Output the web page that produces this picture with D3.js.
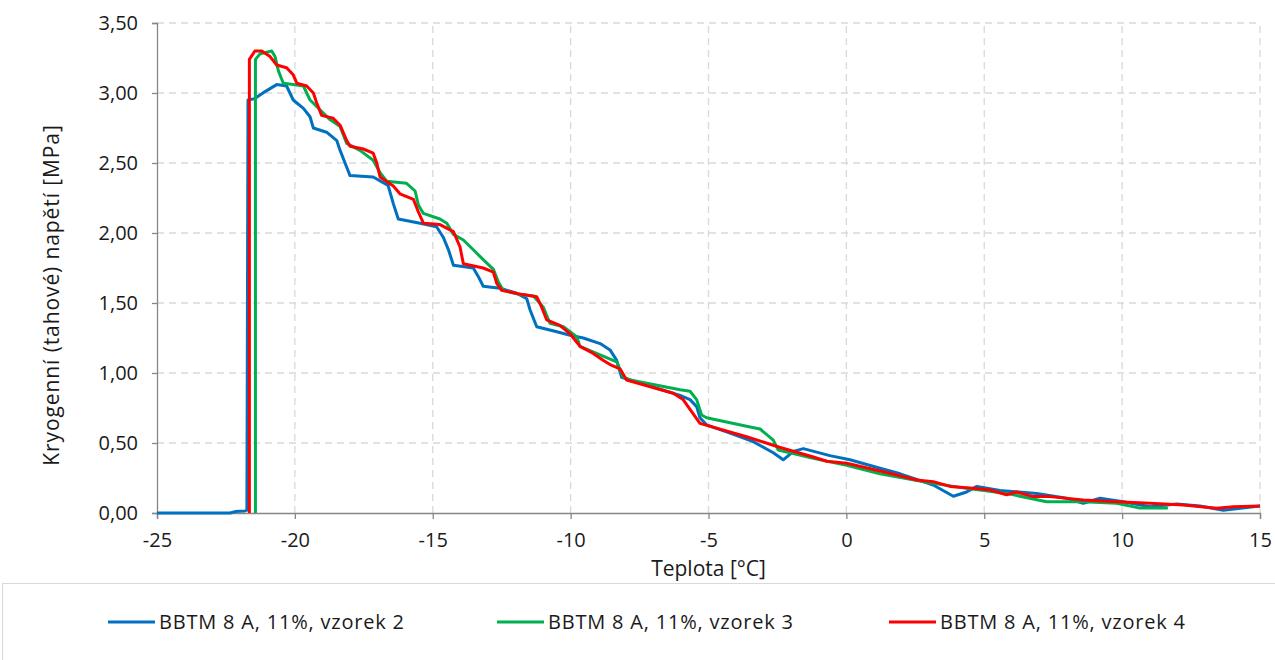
<!DOCTYPE html>
<html>
<head>
<meta charset="utf-8">
<script src="https://cdn.jsdelivr.net/npm/d3@7"></script>
<style>
  body { margin: 0; background: #fff; }
  svg text { font-family: "Open Sans", "DejaVu Sans", sans-serif; fill: #1a1a1a; }
</style>
</head>
<body>
<svg id="chart" width="1275" height="660"></svg>
<script>
// tick labels
const xTicks = [-25, -20, -15, -10, -5, 0, 5, 10, 15];
const yTicks = [0, 0.5, 1, 1.5, 2, 2.5, 3, 3.5];

const seriesNames = ['BBTM 8 A, 11%, vzorek 2', 'BBTM 8 A, 11%, vzorek 3', 'BBTM 8 A, 11%, vzorek 4'];
const seriesColors = ['#0070C0', '#00B050', '#FF0000'];

// [teplota, napětí]
const vzorek2 = [
  [-25, 0], [-22.35, 0], [-22.17, 0.01], [-21.81, 0.015], [-21.74, 0.02], [-21.70, 2.95],
  [-21.45, 2.96], [-21.08, 3.01], [-20.66, 3.06], [-20.30, 3.05], [-20.06, 2.95], [-19.69, 2.89],
  [-19.45, 2.83], [-19.33, 2.75], [-18.85, 2.72], [-18.48, 2.66], [-18.36, 2.59], [-18.12, 2.47],
  [-18.00, 2.41], [-17.16, 2.40], [-16.62, 2.34], [-16.43, 2.21], [-16.25, 2.10], [-15.46, 2.07],
  [-14.86, 2.045], [-14.62, 1.97], [-14.43, 1.88], [-14.25, 1.77], [-13.53, 1.75], [-13.35, 1.69],
  [-13.17, 1.62], [-12.56, 1.605], [-11.96, 1.57], [-11.59, 1.53], [-11.47, 1.45], [-11.23, 1.33],
  [-10.50, 1.295], [-10.02, 1.27], [-9.54, 1.25], [-8.93, 1.21], [-8.57, 1.165], [-8.33, 1.09],
  [-8.15, 0.97], [-7.84, 0.95], [-6.03, 0.84], [-5.67, 0.81], [-5.43, 0.76], [-5.31, 0.68],
  [-5.07, 0.63], [-4.22, 0.57], [-3.38, 0.51], [-2.65, 0.43], [-2.29, 0.38], [-1.92, 0.44],
  [-1.56, 0.46], [-0.60, 0.41], [0.13, 0.38], [1.22, 0.32], [1.95, 0.28], [3.15, 0.20],
  [3.88, 0.12], [4.36, 0.15], [4.73, 0.19], [5.57, 0.16], [6.90, 0.14], [7.99, 0.105],
  [8.59, 0.07], [9.20, 0.105], [10.04, 0.08], [11.01, 0.045], [11.98, 0.065], [12.82, 0.05],
  [13.67, 0.02], [15.0, 0.05]
];

const vzorek3 = [
  [-21.43, 0], [-21.43, 3.24], [-21.26, 3.28], [-20.84, 3.30], [-20.72, 3.26], [-20.60, 3.16],
  [-20.42, 3.07], [-20.06, 3.06], [-19.69, 3.05], [-19.45, 2.95], [-19.09, 2.88], [-18.73, 2.81],
  [-18.36, 2.76], [-18.12, 2.64], [-17.64, 2.59], [-17.16, 2.52], [-16.91, 2.43], [-16.67, 2.37],
  [-15.95, 2.355], [-15.64, 2.30], [-15.52, 2.20], [-15.34, 2.14], [-14.74, 2.10], [-14.49, 2.07],
  [-14.25, 1.99], [-13.89, 1.95], [-13.53, 1.88], [-13.17, 1.81], [-12.80, 1.74], [-12.62, 1.65],
  [-12.44, 1.59], [-11.84, 1.56], [-11.35, 1.55], [-10.99, 1.47], [-10.75, 1.355], [-10.26, 1.33],
  [-9.78, 1.26], [-9.66, 1.19], [-8.93, 1.13], [-8.33, 1.08], [-8.09, 0.97], [-7.84, 0.95],
  [-6.03, 0.88], [-5.67, 0.87], [-5.43, 0.81], [-5.25, 0.70], [-5.07, 0.68], [-3.62, 0.62],
  [-3.13, 0.60], [-2.65, 0.52], [-2.47, 0.45], [-1.20, 0.39], [0.01, 0.34], [1.22, 0.28],
  [2.91, 0.22], [4.36, 0.176], [5.81, 0.14], [7.26, 0.08], [8.59, 0.08], [9.80, 0.07],
  [10.65, 0.035], [11.66, 0.035]
];

const vzorek4 = [
  [-21.65, 0], [-21.65, 3.24], [-21.45, 3.30], [-21.20, 3.30], [-20.90, 3.26], [-20.66, 3.20],
  [-20.30, 3.18], [-20.06, 3.13], [-19.93, 3.07], [-19.57, 3.05], [-19.33, 3.00], [-19.21, 2.93],
  [-19.03, 2.84], [-18.61, 2.82], [-18.36, 2.77], [-18.12, 2.66], [-18.00, 2.62], [-17.52, 2.60],
  [-17.16, 2.57], [-17.03, 2.50], [-16.91, 2.40], [-16.43, 2.335], [-16.19, 2.28], [-15.70, 2.24],
  [-15.52, 2.15], [-15.34, 2.07], [-14.74, 2.06], [-14.25, 2.01], [-14.01, 1.90], [-13.89, 1.78],
  [-13.17, 1.75], [-12.80, 1.72], [-12.68, 1.64], [-12.50, 1.59], [-11.72, 1.56], [-11.23, 1.545],
  [-11.05, 1.47], [-10.87, 1.38], [-10.39, 1.34], [-10.02, 1.28], [-9.66, 1.19], [-9.18, 1.14],
  [-8.81, 1.09], [-8.57, 1.06], [-8.21, 1.03], [-7.97, 0.95], [-6.28, 0.855], [-5.92, 0.81],
  [-5.67, 0.74], [-5.31, 0.64], [-3.62, 0.545], [-2.43, 0.47], [-1.20, 0.40], [-0.71, 0.37],
  [0.01, 0.355], [1.34, 0.295], [2.55, 0.236], [3.15, 0.224], [3.76, 0.19], [4.60, 0.176],
  [5.21, 0.164], [5.81, 0.13], [6.17, 0.15], [6.78, 0.117], [7.38, 0.117], [8.59, 0.093],
  [9.80, 0.08], [11.01, 0.07], [12.22, 0.057], [13.43, 0.034], [14.03, 0.045], [15.0, 0.05]
];

const allSeries = [vzorek2, vzorek3, vzorek4];

const margin = { left: 157, right: 15, top: 23, bottom: 147 };
const width = 1275, height = 660;

let svg = d3.select('#chart');

let x = d3.scaleLinear().domain([-25, 15]).range([margin.left, width - margin.right]);
let y = d3.scaleLinear().domain([0, 3.5]).range([height - margin.bottom, margin.top]);

let fmtY = v => d3.format('.2f')(v).replace('.', ',');

// grid
svg.append('g')
  .selectAll('line')
  .data(yTicks.filter(v => v > 0))
  .enter()
  .append('line')
    .attr('x1', x(-25)).attr('x2', x(15))
    .attr('y1', d => y(d)).attr('y2', d => y(d))
    .attr('stroke', '#d9d9d9').attr('stroke-width', 1.3)
    .attr('stroke-dasharray', '7,5');

svg.append('g')
  .selectAll('line')
  .data(xTicks.filter(v => v > -25))
  .enter()
  .append('line')
    .attr('x1', d => x(d)).attr('x2', d => x(d))
    .attr('y1', y(0)).attr('y2', y(3.5))
    .attr('stroke', '#d9d9d9').attr('stroke-width', 1.3)
    .attr('stroke-dasharray', '7,5');

// axes
let yAxis = svg.append('g')
  .attr('transform', 'translate(' + x(-25) + ',0)')
  .call(d3.axisLeft(y).tickValues(yTicks).tickFormat(fmtY).tickSizeOuter(0).tickSize(5).tickPadding(14));

let xAxis = svg.append('g')
  .attr('transform', 'translate(0,' + y(0) + ')')
  .call(d3.axisBottom(x).tickValues(xTicks).tickFormat(d => String(d)).tickSizeOuter(0).tickSize(6).tickPadding(14));

[yAxis, xAxis].forEach(ax => {
  ax.select('.domain').attr('stroke', '#868686').attr('stroke-width', 1.3);
  ax.selectAll('.tick line').attr('stroke', '#868686').attr('stroke-width', 1.3);
  ax.selectAll('.tick text')
    .style('font-family', '"Open Sans", "DejaVu Sans", sans-serif')
    .style('font-size', '20px')
    .attr('fill', '#1a1a1a');
});

// axis titles
svg.append('text')
  .attr('x', (x(-25) + x(15)) / 2)
  .attr('y', 576)
  .attr('text-anchor', 'middle')
  .style('font-size', '21px')
  .text('Teplota [°C]');

svg.append('text')
  .attr('transform', 'translate(59,' + 295 + ') rotate(-90)')
  .attr('text-anchor', 'middle')
  .style('font-size', '21px')
  .style('letter-spacing', '0.9px')
  .text('Kryogenní (tahové) napětí [MPa]');

// lines
let line = d3.line()
  .x(d => x(d[0]))
  .y(d => y(d[1]));

svg.append('g')
  .selectAll('path')
  .data(allSeries)
  .enter()
  .append('path')
    .attr('d', line)
    .attr('fill', 'none')
    .attr('stroke', (d, i) => seriesColors[i])
    .attr('stroke-width', 3)
    .attr('stroke-linejoin', 'round');

// legend
svg.append('rect')
  .attr('x', 2.5).attr('y', 583.5)
  .attr('width', 1280).attr('height', 90)
  .attr('fill', 'none').attr('stroke', '#d9d9d9').attr('stroke-width', 1);

let legendX = [108, 497, 889];
let legend = svg.append('g')
  .selectAll('g')
  .data(seriesNames)
  .enter()
  .append('g')
    .attr('transform', (d, i) => 'translate(' + legendX[i] + ',622)');

legend.append('line')
  .attr('x1', 0).attr('x2', 47)
  .attr('stroke', (d, i) => seriesColors[i])
  .attr('stroke-width', 3);

legend.append('text')
  .attr('x', 51)
  .attr('dy', '0.35em')
  .style('font-size', '20px')
  .style('letter-spacing', '0.8px')
  .attr('fill', '#000')
  .text(d => d);
</script>
</body>
</html>
